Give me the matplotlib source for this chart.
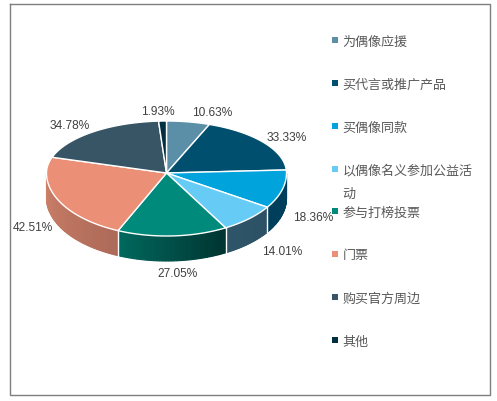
import matplotlib.pyplot as plt
import numpy as np
from matplotlib.colors import to_rgb

plt.rcParams["font.family"] = ["Noto Sans CJK SC", "DejaVu Sans"]

# values as printed on the chart (they are multi-choice shares, so sum > 100)
categories = ["为偶像应援", "买代言或推广产品", "买偶像同款", "以偶像名义参加公益活\n动",
              "参与打榜投票", "门票", "购买官方周边", "其他"]
values = [10.63, 33.33, 18.36, 14.01, 27.05, 42.51, 34.78, 1.93]
labels = ["10.63%", "33.33%", "18.36%", "14.01%", "27.05%", "42.51%", "34.78%", "1.93%"]
colors = ["#5B8FA8", "#004F6E", "#00A3DC", "#67CCF5", "#008A7C", "#EB8F76", "#375565", "#00303F"]
wall_left = ["#5B8FA8", "#004F6E", "#003F5C", "#2F5568", "#00695E", "#CC8069", "#375565", "#00303F"]
wall_right = ["#5B8FA8", "#004F6E", "#003F5C", "#2C5164", "#003330", "#AD6A58", "#375565", "#00303F"]

label_pos = [(212.5, 113), (287, 138), (313, 218), (282, 252), (178, 274), (33, 228), (70, 126), (158, 112)]
legend_y = [42, 85, 128, 171, 213, 256, 299, 342]

W, H = 497, 402
CX, CY = 166.5, 174
RX, RY_TOP, RY_BOT = 120, 52, 63
DEPTH = 25


def project(theta, z=0):
    # theta in degrees, clockwise from 12 o'clock; front half is squashed less (perspective)
    t = np.radians(theta)
    c = np.cos(t)
    return CX + RX * np.sin(t), CY - np.where(c > 0, RY_TOP, RY_BOT) * c + z


fig = plt.figure(figsize=(W / 100, H / 100), dpi=100)
ax = fig.add_axes([0, 0, 1, 1])
ax.set_xlim(0, W)
ax.set_ylim(H, 0)
ax.axis("off")

# frame
ax.plot([9.5, 489.5, 489.5, 9.5, 9.5], [4.5, 4.5, 396, 396, 4.5], color="#7F7F7F", lw=1)

edges = np.concatenate([[0], np.cumsum(values)]) / sum(values) * 360

# side walls, only the part on the front half of the pie
for i in range(len(values)):
    a0, a1 = max(edges[i], 90), min(edges[i + 1], 270)
    if a1 <= a0:
        continue
    steps = np.linspace(a0, a1, 40)
    c0, c1 = np.array(to_rgb(wall_left[i])), np.array(to_rgb(wall_right[i]))
    for j in range(len(steps) - 1):
        x0, y0 = project(steps[j])
        x1, y1 = project(steps[j + 1])
        f = 1 - (j + 0.5) / (len(steps) - 1)  # sweep runs right to left
        col = c0 * (1 - f) + c1 * f
        ax.fill([x0, x1, x1, x0], [y0, y1, y1 + DEPTH, y0 + DEPTH], facecolor=col, edgecolor=col,
                lw=0.8, zorder=2)

# white seams where the walls meet
for a in edges:
    if 90 <= a <= 270:
        x0, y0 = project(a)
        ax.plot([x0, x0], [y0, y0 + DEPTH], color="white", lw=1, zorder=3)

# top face
for i in range(len(values)):
    th = np.linspace(edges[i], edges[i + 1], 80)
    x, y = project(th)
    ax.fill(np.r_[CX, x], np.r_[CY, y], facecolor=colors[i], edgecolor="white", lw=1,
            joinstyle="round", zorder=4)

for (x, y), s in zip(label_pos, labels):
    ax.text(x, y, s, ha="center", va="center", fontsize=8.6, family="Liberation Sans",
            color="#404040", zorder=5)

# legend
for y, cat, col in zip(legend_y, categories, colors):
    ax.scatter([335], [y - 1], marker="s", s=20, color=col, lw=0, zorder=5)
    ax.text(342.5, y, cat.split("\n")[0], ha="left", va="center", fontsize=9.4, color="#595959")
    if "\n" in cat:
        ax.text(342.5, y + 23, cat.split("\n")[1], ha="left", va="center", fontsize=9.4, color="#595959")

fig.savefig("out.png", dpi=100)
